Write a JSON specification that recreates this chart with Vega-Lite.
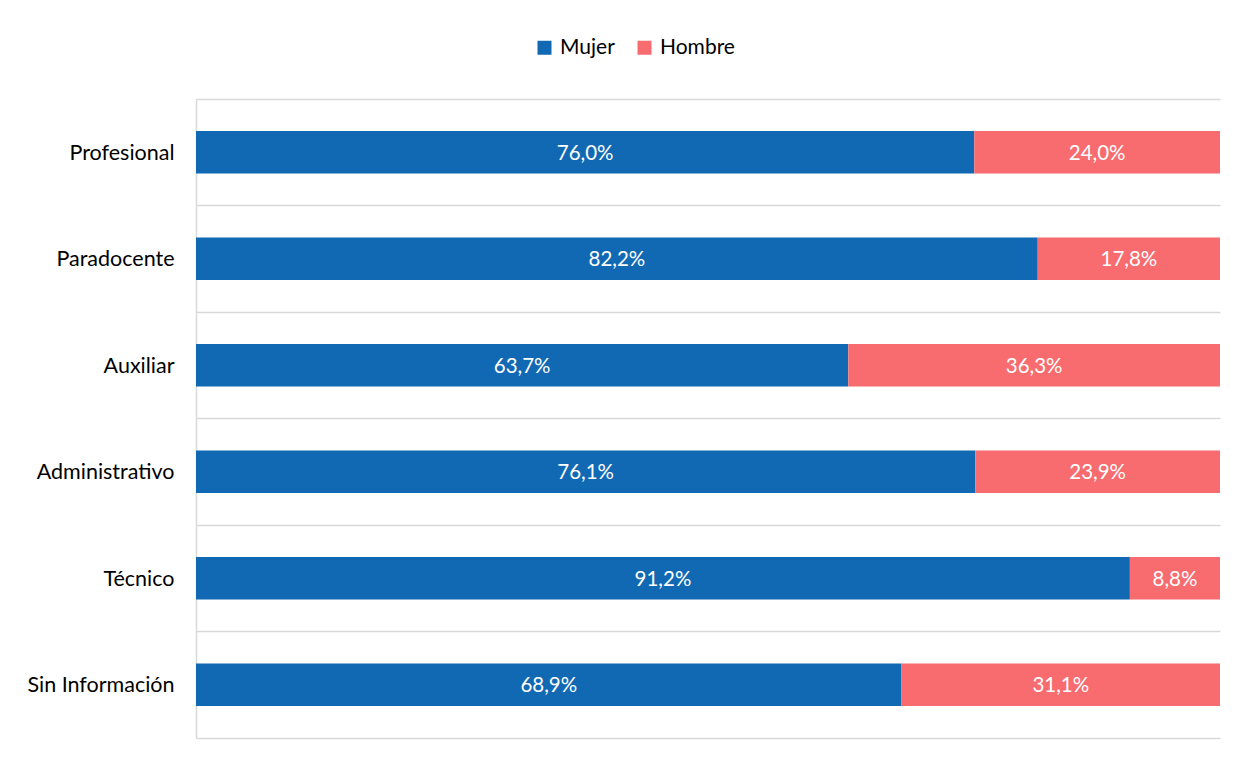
{
  "$schema": "https://vega.github.io/schema/vega-lite/v6.json",
  "autosize": {"type": "none"},
  "padding": {"left": 196, "top": 99, "right": 17, "bottom": 26},
  "width": 1024,
  "height": 639,
  "background": "white",
  "data": {
    "values": [
      {"categoria": "Profesional", "sexo": "Mujer", "valor": 0.760},
      {"categoria": "Profesional", "sexo": "Hombre", "valor": 0.240},
      {"categoria": "Paradocente", "sexo": "Mujer", "valor": 0.822},
      {"categoria": "Paradocente", "sexo": "Hombre", "valor": 0.178},
      {"categoria": "Auxiliar", "sexo": "Mujer", "valor": 0.637},
      {"categoria": "Auxiliar", "sexo": "Hombre", "valor": 0.363},
      {"categoria": "Administrativo", "sexo": "Mujer", "valor": 0.761},
      {"categoria": "Administrativo", "sexo": "Hombre", "valor": 0.239},
      {"categoria": "Técnico", "sexo": "Mujer", "valor": 0.912},
      {"categoria": "Técnico", "sexo": "Hombre", "valor": 0.088},
      {"categoria": "Sin Información", "sexo": "Mujer", "valor": 0.689},
      {"categoria": "Sin Información", "sexo": "Hombre", "valor": 0.311}
    ]
  },
  "transform": [
    {"stack": "valor", "groupby": ["categoria"], "sort": [{"field": "sexo", "order": "descending"}], "as": ["v0", "v1"]}
  ],
  "encoding": {
    "y": {
      "field": "categoria",
      "type": "nominal",
      "sort": ["Profesional", "Paradocente", "Auxiliar", "Administrativo", "Técnico", "Sin Información"],
      "scale": {"paddingInner": 0, "paddingOuter": 0},
      "axis": {
        "title": null,
        "ticks": false,
        "labelPadding": 22,
        "labelOffset": 1.5,
        "labelFont": "Lato",
        "labelFontSize": 21.5,
        "labelColor": "#000000",
        "labelLimit": 300,
        "domain": true,
        "domainColor": "#d9d9d9",
        "domainWidth": 1.5,
        "grid": true,
        "gridColor": "#d9d9d9",
        "gridWidth": 1.5,
        "bandPosition": 0
      }
    }
  },
  "layer": [
    {
      "mark": {"type": "bar", "height": {"band": 0.4}},
      "encoding": {
        "x": {
          "field": "v0",
          "type": "quantitative",
          "scale": {"domain": [0, 1], "nice": false, "zero": true},
          "axis": {
            "title": null,
            "labels": false,
            "ticks": false,
            "grid": false,
            "domain": true,
            "domainColor": "#d9d9d9",
            "domainWidth": 1.5
          }
        },
        "x2": {"field": "v1"},
        "color": {
          "field": "sexo",
          "type": "nominal",
          "scale": {"domain": ["Mujer", "Hombre"], "range": ["#1169B4", "#F86B6E"]},
          "legend": {
            "title": null,
            "orient": "none",
            "direction": "horizontal",
            "legendX": 338,
            "legendY": -62,
            "padding": 0,
            "symbolType": "square",
            "symbolSize": 196,
            "symbolStrokeWidth": 0,
            "labelFont": "Lato",
            "labelFontSize": 21,
            "labelColor": "#000000",
            "labelOffset": 5,
            "columnPadding": 19
          }
        }
      }
    },
    {
      "transform": [
        {"fold": ["v0", "v1"], "as": ["k", "pos"]},
        {"aggregate": [{"op": "mean", "field": "pos", "as": "mid"}], "groupby": ["categoria", "sexo", "valor"]}
      ],
      "mark": {"type": "text", "color": "white", "font": "Lato", "fontSize": 20.5, "align": "center", "baseline": "middle", "dy": 1.5},
      "encoding": {
        "x": {"field": "mid", "type": "quantitative"},
        "text": {"field": "valor", "type": "quantitative", "format": ".1%"}
      }
    }
  ],
  "config": {
    "view": {"stroke": null},
    "locale": {
      "number": {"decimal": ",", "thousands": ".", "grouping": [3], "currency": ["$", ""], "percent": "%"}
    }
  }
}
